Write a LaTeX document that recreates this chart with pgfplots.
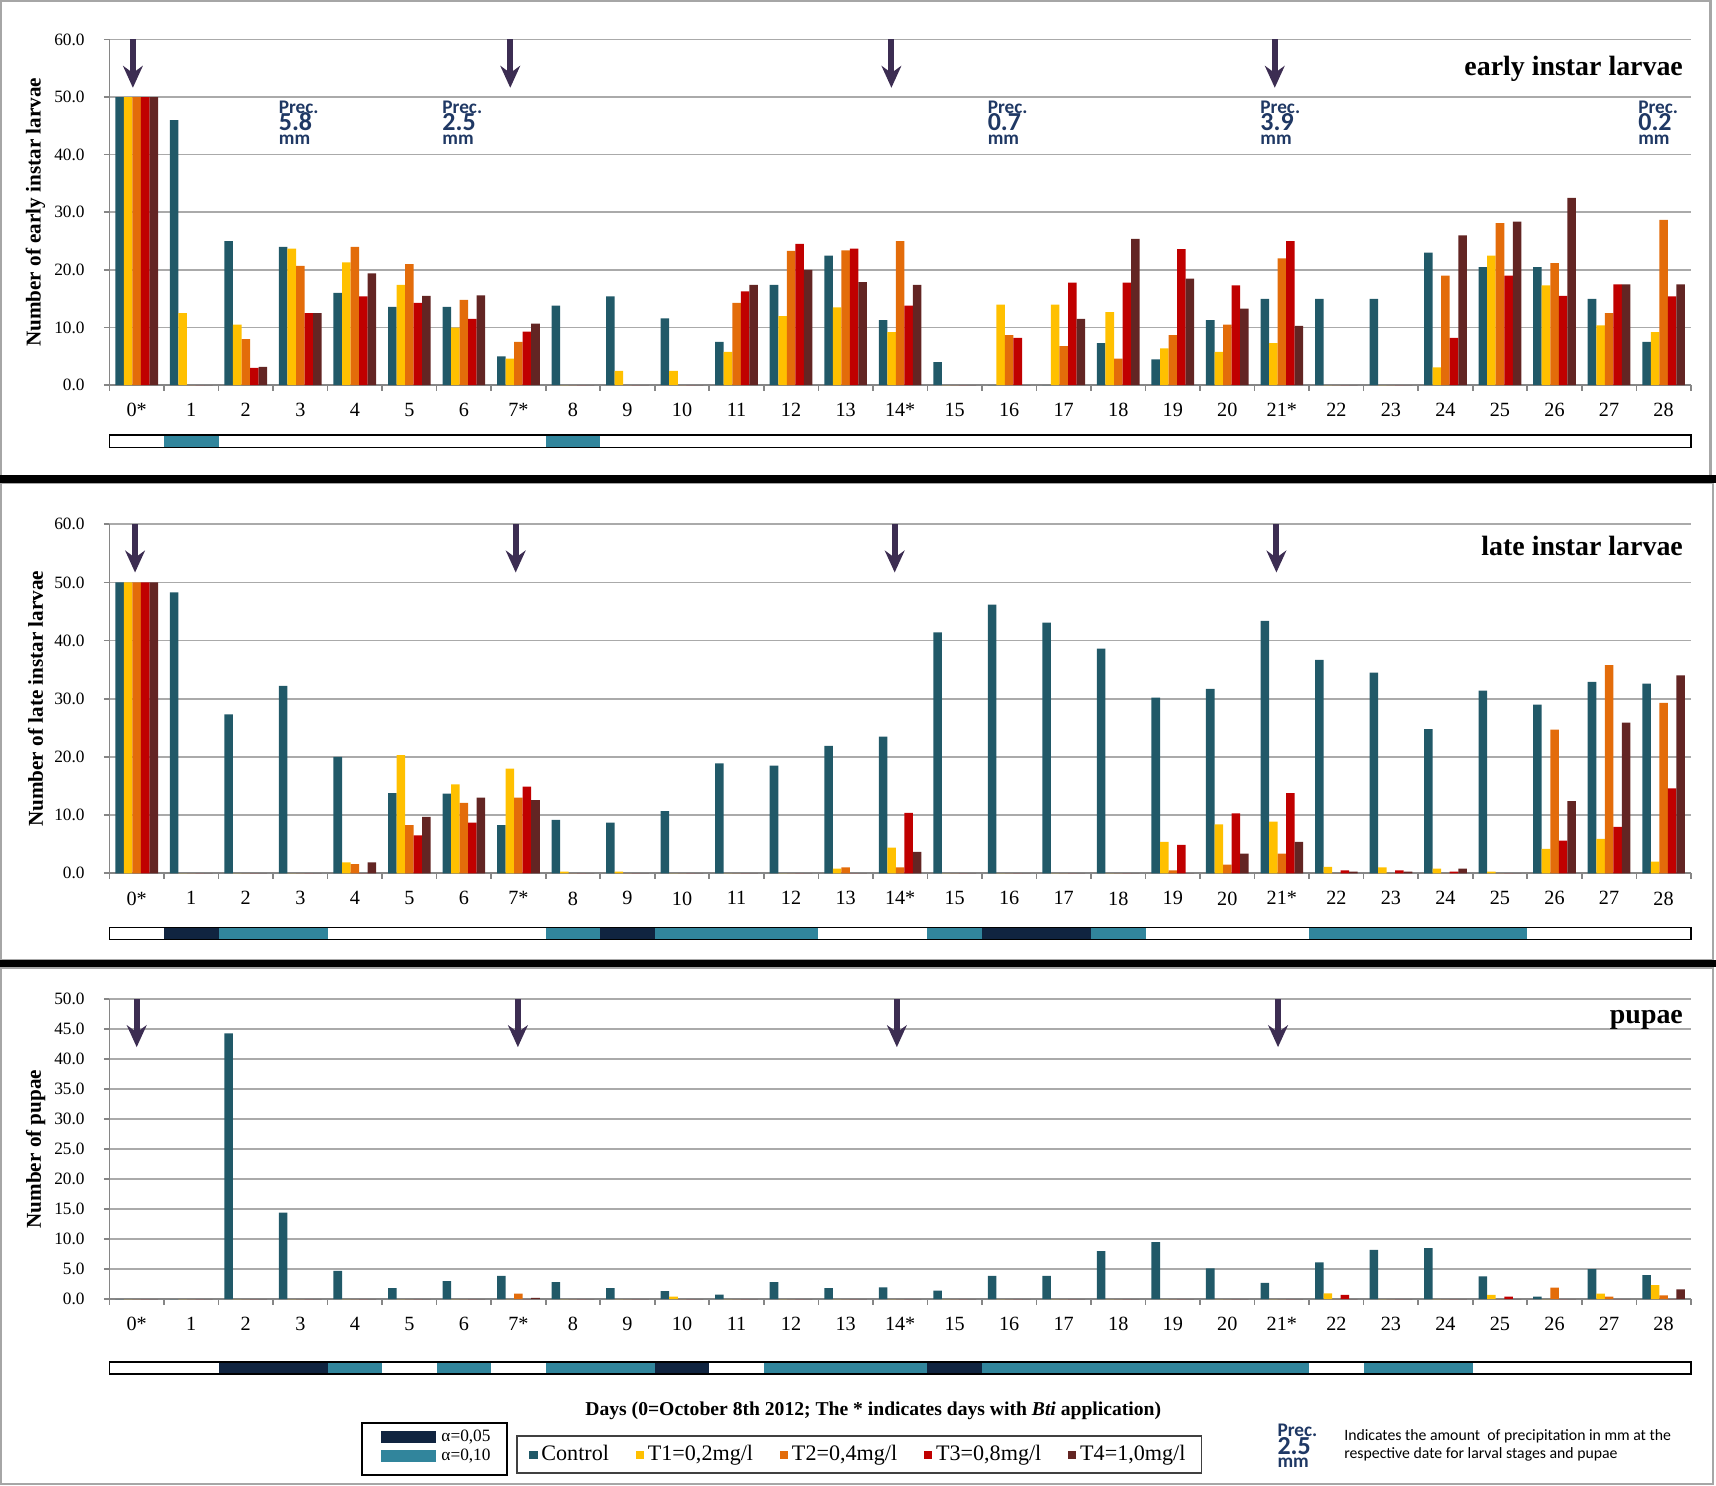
\documentclass[border=0pt]{standalone}
\usepackage{fontspec}
\setmainfont{Liberation Serif}
\newfontfamily\carlito{Carlito}
\usepackage{pgfplots}
\pgfplotsset{compat=1.18}
\usepackage{pgfplotstable}
\usetikzlibrary{arrows.meta}

\definecolor{cC}{RGB}{33,89,104}
\definecolor{cT1}{RGB}{255,192,0}
\definecolor{cT2}{RGB}{227,108,10}
\definecolor{cT3}{RGB}{192,0,0}
\definecolor{cT4}{RGB}{99,37,35}
\definecolor{aA}{RGB}{16,36,64}
\definecolor{aB}{RGB}{49,133,156}
\definecolor{arr}{RGB}{60,45,82}
\definecolor{precc}{RGB}{31,56,100}
\definecolor{gridg}{RGB}{170,170,170}
\definecolor{axg}{RGB}{134,134,134}

\pgfplotstableread{
day c t1 t2 t3 t4
0 50 50 50 50 50
1 46 12.5 0 0 0
2 25 10.5 8 3 3.2
3 24 23.7 20.7 12.5 12.5
4 16 21.3 24 15.4 19.4
5 13.6 17.4 21 14.3 15.5
6 13.6 10 14.8 11.5 15.6
7 5 4.6 7.5 9.3 10.7
8 13.8 0 0 0 0
9 15.4 2.5 0 0 0
10 11.6 2.5 0 0 0
11 7.5 5.8 14.3 16.3 17.4
12 17.4 12 23.3 24.5 20
13 22.5 13.5 23.4 23.7 17.9
14 11.3 9.2 25 13.8 17.4
15 4 0 0 0 0
16 0 14 8.7 8.2 0
17 0 14 6.8 17.8 11.5
18 7.3 12.7 4.6 17.8 25.4
19 4.5 6.4 8.7 23.6 18.5
20 11.3 5.8 10.5 17.3 13.3
21 15 7.3 22 25 10.3
22 15 0 0 0 0
23 15 0 0 0 0
24 23 3.1 19 8.2 26
25 20.5 22.5 28.1 19 28.4
26 20.5 17.3 21.2 15.5 32.5
27 15 10.4 12.5 17.5 17.5
28 7.5 9.2 28.7 15.4 17.5
}\early

\pgfplotstableread{
day c t1 t2 t3 t4
0 50 50 50 50 50
1 48.3 0 0 0 0
2 27.3 0 0 0 0
3 32.2 0 0 0 0
4 20.0 1.9 1.6 0 1.9
5 13.8 20.3 8.3 6.5 9.7
6 13.7 15.3 12.1 8.7 13.0
7 8.3 18.0 13.0 14.9 12.6
8 9.2 0.3 0 0 0
9 8.7 0.3 0 0 0
10 10.7 0 0 0 0
11 18.9 0 0 0 0
12 18.5 0 0 0 0
13 21.9 0.8 1.0 0 0
14 23.5 4.4 1.0 10.4 3.7
15 41.4 0 0 0 0
16 46.2 0 0 0 0
17 43.1 0 0 0 0
18 38.6 0 0 0 0
19 30.2 5.4 0.5 4.9 0
20 31.7 8.4 1.5 10.3 3.4
21 43.4 8.9 3.4 13.8 5.4
22 36.7 1.1 0 0.5 0.3
23 34.5 1.0 0 0.5 0.3
24 24.8 0.8 0 0.3 0.8
25 31.4 0.3 0 0 0
26 29.0 4.2 24.7 5.6 12.4
27 32.9 5.9 35.8 8.0 25.9
28 32.6 2.0 29.3 14.6 34.0
}\late

\pgfplotstableread{
day c t1 t2 t3 t4
0 0 0 0 0 0
1 0 0 0 0 0
2 44.3 0 0 0 0
3 14.4 0 0 0 0
4 4.7 0 0 0 0
5 1.8 0 0 0 0
6 3.0 0 0 0 0
7 3.85 0 0.9 0 0.2
8 2.8 0 0 0 0
9 1.8 0 0 0 0
10 1.3 0.4 0 0 0
11 0.75 0 0 0 0
12 2.8 0 0 0 0
13 1.8 0 0 0 0
14 1.95 0 0 0 0
15 1.4 0 0 0 0
16 3.85 0 0 0 0
17 3.85 0 0 0 0
18 8.0 0 0 0 0
19 9.5 0 0 0 0
20 5.1 0 0 0 0
21 2.7 0 0 0 0
22 6.1 0.95 0 0.7 0
23 8.2 0 0 0 0
24 8.5 0 0 0 0
25 3.8 0.7 0 0.4 0
26 0.4 0 1.9 0 0
27 5.0 0.9 0.4 0 0
28 4.0 2.3 0.6 0 1.6
}\pupae

\tikzset{arrstyle/.style={draw=arr, line width=1.1mm, -{Stealth[length=4mm, width=3.6mm, inset=1.3mm]}}}

\pgfplotsset{
  panel/.style={
    scale only axis, width=289mm,
    xmin=-0.5, xmax=28.5, ymin=0,
    clip=false,
    ybar=0pt, bar width=1.56mm,
    axis x line*=bottom, axis y line*=left,
    axis line style={draw=axg, line width=0.3mm, -},
    xtick={-0.5,0.5,...,28.5},
    x tick label as interval,
    xticklabels={0*,1,2,3,4,5,6,7*,8,9,10,11,12,13,14*,15,16,17,18,19,20,21*,22,23,24,25,26,27,28},
    tick align=outside,
    major tick length=1mm,
    tick style={draw=axg, line width=0.3mm},
    ymajorgrids,
    grid style={draw=gridg, line width=0.3mm},
    xticklabel style={font=\fontsize{10.5}{12}\selectfont, yshift=-1.1mm},
    yticklabel style={font=\fontsize{9}{11}\selectfont, xshift=-2.3mm,
      /pgf/number format/fixed, /pgf/number format/fixed zerofill,
      /pgf/number format/precision=1},
    /pgf/number format/assume math mode=true,
    ylabel style={font=\bfseries\fontsize{11}{13}\selectfont,
      at={(axis description cs:-0.0467,0.5)}, anchor=center},
  },
}

% one node holding the three stacked lines of a precipitation note
\newcommand{\preclabel}[1]{%
  \rlap{\fontsize{10}{10}\selectfont Prec.}%
  \rlap{\raisebox{-3.2mm}{\fontsize{13.5}{13.5}\selectfont #1}}%
  \raisebox{-5.65mm}{\fontsize{10}{10}\selectfont mm}}
\newcommand{\precip}[2]{%
  \node[anchor=base west, inner sep=0, text=precc, font=\carlito\bfseries] at (axis cs:#1,47.2) {\preclabel{#2}};
}

\begin{document}
\begin{tikzpicture}
\useasboundingbox (0,0) rectangle (313.6mm,271.4mm);
% panel frames
\draw[gray!70, line width=0.4mm] (0.2mm,184.4mm) rectangle (312.6mm,271.2mm);
\draw[gray!70, line width=0.4mm] (0.2mm,96mm) rectangle (313.0mm,183.2mm);
\draw[gray!70, line width=0.4mm] (0.2mm,0.2mm) rectangle (313.0mm,94.6mm);
\fill[black] (0,183.1mm) rectangle (313.6mm,184.5mm);
\fill[black] (0,94.6mm) rectangle (313.6mm,96.0mm);

% ---------------- early instar larvae
\begin{axis}[panel, at={(20mm,201mm)}, anchor=south west, height=63.2mm,
  ymax=60, ytick={0,10,...,60},
  ylabel={Number of early instar larvae}]
\addplot[fill=cC, draw=none] table[x=day,y=c] {\early};
\addplot[fill=cT1, draw=none] table[x=day,y=t1] {\early};
\addplot[fill=cT2, draw=none] table[x=day,y=t2] {\early};
\addplot[fill=cT3, draw=none] table[x=day,y=t3] {\early};
\addplot[fill=cT4, draw=none] table[x=day,y=t4] {\early};
\draw[arrstyle] (axis cs:-0.07,60) -- (axis cs:-0.07,51.6);
\draw[arrstyle] (axis cs:6.85,60) -- (axis cs:6.85,51.6);
\draw[arrstyle] (axis cs:13.84,60) -- (axis cs:13.84,51.6);
\draw[arrstyle] (axis cs:20.87,60) -- (axis cs:20.87,51.6);
\node[anchor=base east, inner sep=0, font=\bfseries\fontsize{14.5}{16}\selectfont] at (axis cs:28.36,53.8) {early instar larvae};
\precip{2.6}{5.8}
\precip{5.6}{2.5}
\precip{15.6}{0.7}
\precip{20.6}{3.9}
\precip{27.53}{0.2}
% significance bar
\fill[aB] (axis cs:0.5,-8.63) rectangle (axis cs:1.5,-10.78);
\fill[aB] (axis cs:7.5,-8.63) rectangle (axis cs:8.5,-10.78);
\draw[black, line width=0.25mm] (axis cs:-0.5,-8.63) rectangle (axis cs:28.5,-10.78);
\end{axis}

% ---------------- late instar larvae
\begin{axis}[panel, at={(20mm,111.8mm)}, anchor=south west, height=63.8mm,
  ymax=60, ytick={0,10,...,60},
  ylabel={Number of late instar larvae}]
\addplot[fill=cC, draw=none] table[x=day,y=c] {\late};
\addplot[fill=cT1, draw=none] table[x=day,y=t1] {\late};
\addplot[fill=cT2, draw=none] table[x=day,y=t2] {\late};
\addplot[fill=cT3, draw=none] table[x=day,y=t3] {\late};
\addplot[fill=cT4, draw=none] table[x=day,y=t4] {\late};
\draw[arrstyle] (axis cs:-0.03,60) -- (axis cs:-0.03,51.7);
\draw[arrstyle] (axis cs:6.95,60) -- (axis cs:6.95,51.7);
\draw[arrstyle] (axis cs:13.9,60) -- (axis cs:13.9,51.7);
\draw[arrstyle] (axis cs:20.9,60) -- (axis cs:20.9,51.7);
\node[anchor=base east, inner sep=0, font=\bfseries\fontsize{14.5}{16}\selectfont] at (axis cs:28.36,54.7) {late instar larvae};
% significance bar
\fill[aA] (axis cs:0.5,-9.3) rectangle (axis cs:1.5,-11.4);
\fill[aB] (axis cs:1.5,-9.3) rectangle (axis cs:3.5,-11.4);
\fill[aB] (axis cs:7.5,-9.3) rectangle (axis cs:8.5,-11.4);
\fill[aA] (axis cs:8.5,-9.3) rectangle (axis cs:9.5,-11.4);
\fill[aB] (axis cs:9.5,-9.3) rectangle (axis cs:12.5,-11.4);
\fill[aB] (axis cs:14.5,-9.3) rectangle (axis cs:15.5,-11.4);
\fill[aA] (axis cs:15.5,-9.3) rectangle (axis cs:17.5,-11.4);
\fill[aB] (axis cs:17.5,-9.3) rectangle (axis cs:18.5,-11.4);
\fill[aB] (axis cs:21.5,-9.3) rectangle (axis cs:25.5,-11.4);
\draw[black, line width=0.25mm] (axis cs:-0.5,-9.3) rectangle (axis cs:28.5,-11.4);
\end{axis}

% ---------------- pupae
\begin{axis}[panel, at={(20mm,34mm)}, anchor=south west, height=54.8mm,
  ymax=50, ytick={0,5,...,50},
  ylabel={Number of pupae},
  xlabel={Days (0=October 8th 2012; The * indicates days with \textit{Bti} application)},
  xlabel style={at={(axis description cs:0.483,-0.387)}, anchor=base,
    font=\bfseries\fontsize{10.2}{12}\selectfont},
  legend columns=5,
  legend cell align=left,
  legend style={at={(axis description cs:0.2574,-0.455)}, anchor=north west,
    draw=black!75, line width=0.3mm, font=\fontsize{11.5}{13}\selectfont,
    inner xsep=2.2mm, inner ysep=1.0mm,
    /tikz/every even column/.append style={column sep=4.2mm}},
  ]
\addplot[fill=cC, draw=none, legend image code/.code={\fill[cC] (0mm,-0.75mm) rectangle (1.5mm,0.75mm);}] table[x=day,y=c] {\pupae};
\addlegendentry{Control}
\addplot[fill=cT1, draw=none, legend image code/.code={\fill[cT1] (0mm,-0.75mm) rectangle (1.5mm,0.75mm);}] table[x=day,y=t1] {\pupae};
\addlegendentry{T1=0,2mg/l}
\addplot[fill=cT2, draw=none, legend image code/.code={\fill[cT2] (0mm,-0.75mm) rectangle (1.5mm,0.75mm);}] table[x=day,y=t2] {\pupae};
\addlegendentry{T2=0,4mg/l}
\addplot[fill=cT3, draw=none, legend image code/.code={\fill[cT3] (0mm,-0.75mm) rectangle (1.5mm,0.75mm);}] table[x=day,y=t3] {\pupae};
\addlegendentry{T3=0,8mg/l}
\addplot[fill=cT4, draw=none, legend image code/.code={\fill[cT4] (0mm,-0.75mm) rectangle (1.5mm,0.75mm);}] table[x=day,y=t4] {\pupae};
\addlegendentry{T4=1,0mg/l}
\draw[arrstyle] (axis cs:0,50) -- (axis cs:0,42);
\draw[arrstyle] (axis cs:6.99,50) -- (axis cs:6.99,42);
\draw[arrstyle] (axis cs:13.94,50) -- (axis cs:13.94,42);
\draw[arrstyle] (axis cs:20.93,50) -- (axis cs:20.93,42);
\node[anchor=base east, inner sep=0, font=\bfseries\fontsize{14.5}{16}\selectfont] at (axis cs:28.36,46) {pupae};
% significance bar
\fill[aA] (axis cs:1.5,-10.5) rectangle (axis cs:3.5,-12.5);
\fill[aB] (axis cs:3.5,-10.5) rectangle (axis cs:4.5,-12.5);
\fill[aB] (axis cs:5.5,-10.5) rectangle (axis cs:6.5,-12.5);
\fill[aB] (axis cs:7.5,-10.5) rectangle (axis cs:9.5,-12.5);
\fill[aA] (axis cs:9.5,-10.5) rectangle (axis cs:10.5,-12.5);
\fill[aB] (axis cs:11.5,-10.5) rectangle (axis cs:14.5,-12.5);
\fill[aA] (axis cs:14.5,-10.5) rectangle (axis cs:15.5,-12.5);
\fill[aB] (axis cs:15.5,-10.5) rectangle (axis cs:21.5,-12.5);
\fill[aB] (axis cs:22.5,-10.5) rectangle (axis cs:24.5,-12.5);
\draw[black, line width=0.25mm] (axis cs:-0.5,-10.5) rectangle (axis cs:28.5,-12.5);
\end{axis}

% alpha legend
\draw[black, line width=0.3mm] (66.2mm,1.8mm) rectangle (92.6mm,11.4mm);
\fill[aA] (69.6mm,7.6mm) rectangle (79.6mm,9.8mm);
\fill[aB] (69.6mm,4.2mm) rectangle (79.6mm,6.4mm);
\node[anchor=west, inner sep=0, font=\fontsize{9}{10}\selectfont] at (80.6mm,8.7mm) {α=0,05};
\node[anchor=west, inner sep=0, font=\fontsize{9}{10}\selectfont] at (80.6mm,5.3mm) {α=0,10};

% precipitation note
\node[anchor=base west, inner sep=0, text=precc, font=\carlito\bfseries] at (233.4mm,8.8mm) {\preclabel{2.5}};
\node[anchor=base west, inner sep=0, font=\carlito\fontsize{8.2}{9}\selectfont] at (245.6mm,8.2mm) {Indicates the amount\ \ of precipitation in mm at the};
\node[anchor=base west, inner sep=0, font=\carlito\fontsize{8.2}{9}\selectfont] at (245.6mm,4.8mm) {respective date for larval stages and pupae};
\end{tikzpicture}
\end{document}
